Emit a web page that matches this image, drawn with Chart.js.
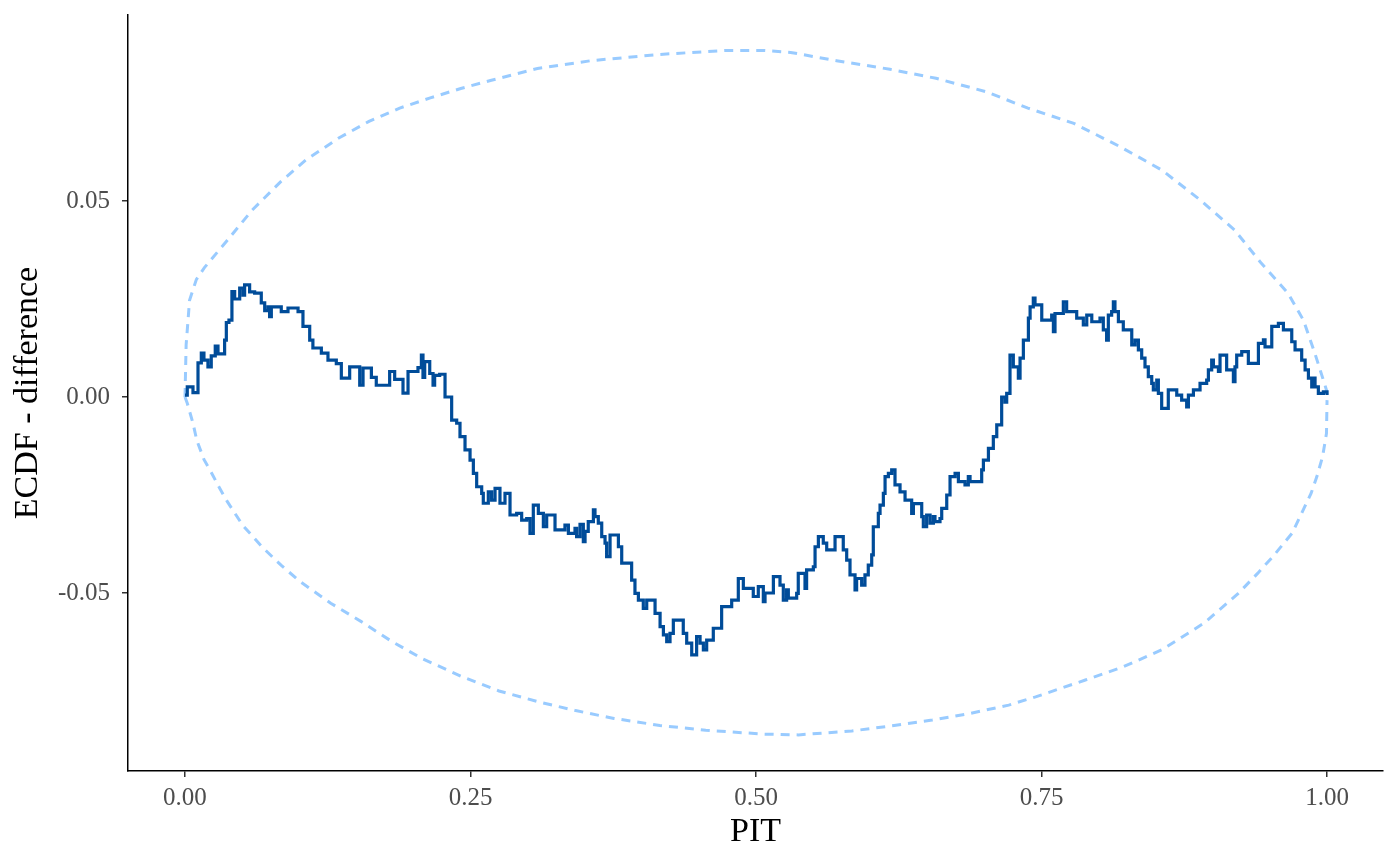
<!DOCTYPE html>
<html>
<head>
<meta charset="utf-8">
<script src="https://cdn.jsdelivr.net/npm/chart.js@4.4.1/dist/chart.umd.min.js"></script>
<style>
html,body{margin:0;padding:0;background:#fff;}
#c{display:block;}
</style>
</head>
<body>
<canvas id="c" width="1400" height="866"></canvas>
<script>
// PIT values (x) and ECDF difference (y) for the observed step curve
const ecdfX = [0.000,0.002,0.007,0.0114,0.0143,0.0166,0.0201,0.023,0.0265,0.0289,0.0347,0.0362,0.0385,0.0411,0.0435,0.0479,0.0508,0.0522,0.0566,0.061,0.0668,0.0698,0.0727,0.0741,0.0756,0.0843,0.0902,0.099,0.1033,0.1092,0.112,0.1194,0.1252,0.1325,0.1369,0.1442,0.153,0.1559,0.1632,0.1675,0.1792,0.1836,0.1909,0.1953,0.204,0.207,0.2084,0.2099,0.2143,0.2172,0.2186,0.223,0.2277,0.2335,0.2379,0.2408,0.2452,0.2496,0.2525,0.2554,0.2598,0.2612,0.2656,0.2685,0.2715,0.2758,0.2802,0.2846,0.2904,0.2948,0.2992,0.3021,0.305,0.3094,0.3138,0.3167,0.324,0.3327,0.3357,0.3415,0.3429,0.3459,0.3488,0.3503,0.3531,0.3576,0.359,0.3619,0.3649,0.3678,0.3692,0.3722,0.3795,0.3824,0.3911,0.394,0.397,0.4013,0.4043,0.4116,0.416,0.4189,0.4218,0.4247,0.4276,0.4363,0.4393,0.4437,0.448,0.451,0.4539,0.4568,0.4626,0.4699,0.4787,0.4845,0.4889,0.4976,0.502,0.5064,0.5079,0.5152,0.521,0.5239,0.5268,0.5283,0.5356,0.537,0.5429,0.5443,0.5502,0.5517,0.5546,0.5589,0.5619,0.5692,0.5764,0.5794,0.5823,0.5867,0.5881,0.5925,0.5954,0.5983,0.6013,0.6027,0.6071,0.6086,0.6115,0.613,0.6159,0.6188,0.6217,0.6261,0.6305,0.6363,0.6378,0.6451,0.6465,0.6494,0.6524,0.6553,0.6567,0.6611,0.6626,0.667,0.6699,0.6743,0.6772,0.683,0.6859,0.6874,0.6976,0.6991,0.7035,0.7078,0.7108,0.7151,0.718,0.7195,0.7224,0.7253,0.7297,0.7312,0.7341,0.7385,0.74,0.7428,0.7443,0.7502,0.7589,0.7604,0.7618,0.7691,0.772,0.7808,0.7866,0.7896,0.794,0.8012,0.8041,0.807,0.8085,0.8114,0.8129,0.8143,0.8173,0.8216,0.829,0.8319,0.8348,0.8377,0.8406,0.8435,0.8465,0.8479,0.8509,0.8523,0.8552,0.861,0.8684,0.8727,0.8771,0.8786,0.883,0.8888,0.8946,0.8961,0.899,0.9005,0.9049,0.9063,0.9121,0.918,0.9194,0.9209,0.9253,0.9311,0.9399,0.9443,0.9457,0.9516,0.9574,0.9618,0.9691,0.972,0.9778,0.9808,0.9837,0.9866,0.988,0.9895,0.9924,0.9968,1.000];
const ecdfY = [0.0005,0.0026,0.0011,0.0087,0.0112,0.0094,0.0077,0.0105,0.013,0.011,0.0145,0.019,0.0196,0.0269,0.025,0.0278,0.026,0.0286,0.0268,0.0265,0.024,0.022,0.023,0.0205,0.023,0.0218,0.0227,0.0218,0.018,0.0145,0.0125,0.0112,0.0094,0.0085,0.0048,0.0077,0.003,0.0074,0.005,0.003,0.0065,0.0045,0.001,0.0065,0.0075,0.0107,0.005,0.009,0.006,0.003,0.0055,0.0058,0.0,-0.0059,-0.0067,-0.0101,-0.0135,-0.0161,-0.0195,-0.0229,-0.0246,-0.0271,-0.0242,-0.0263,-0.0233,-0.0271,-0.0246,-0.0301,-0.0297,-0.0314,-0.031,-0.0348,-0.0276,-0.0297,-0.0331,-0.0301,-0.0339,-0.0327,-0.0348,-0.0335,-0.0356,-0.0325,-0.0369,-0.0343,-0.0318,-0.0288,-0.0305,-0.0322,-0.0356,-0.0373,-0.0407,-0.0352,-0.0382,-0.0424,-0.0467,-0.0501,-0.0518,-0.0539,-0.0518,-0.0552,-0.0586,-0.0607,-0.0624,-0.0603,-0.0569,-0.0603,-0.0628,-0.0658,-0.0611,-0.0628,-0.0645,-0.062,-0.059,-0.0535,-0.0518,-0.0463,-0.0488,-0.0509,-0.0484,-0.0522,-0.05,-0.0458,-0.048,-0.0518,-0.0492,-0.0513,-0.0501,-0.045,-0.0488,-0.0441,-0.0433,-0.0382,-0.0356,-0.0373,-0.039,-0.0356,-0.039,-0.0416,-0.0454,-0.0492,-0.0463,-0.048,-0.0454,-0.0429,-0.0403,-0.0331,-0.0297,-0.0276,-0.0246,-0.0203,-0.0195,-0.0186,-0.0224,-0.0242,-0.0263,-0.0297,-0.0272,-0.0305,-0.0331,-0.0301,-0.0322,-0.0305,-0.0318,-0.031,-0.0284,-0.025,-0.0203,-0.0195,-0.0216,-0.0224,-0.0203,-0.0216,-0.0186,-0.0161,-0.0131,-0.0101,-0.0071,0.0,-0.0013,0.0009,0.0107,0.0077,0.0048,0.0099,0.0145,0.0201,0.023,0.0252,0.0235,0.0196,0.0209,0.0167,0.0213,0.0243,0.0218,0.0201,0.0184,0.0209,0.0192,0.0201,0.0171,0.0145,0.0209,0.0218,0.0243,0.0218,0.0192,0.0171,0.0133,0.0145,0.012,0.0099,0.0077,0.0052,0.0035,0.0018,0.0043,0.0009,-0.0029,0.0018,0.0005,-0.0008,-0.0025,0.0005,0.0018,0.0035,0.0043,0.0069,0.0094,0.0077,0.0065,0.0107,0.0069,0.0039,0.0077,0.0107,0.0116,0.0086,0.0137,0.0146,0.0128,0.018,0.0188,0.0171,0.0141,0.012,0.0094,0.0069,0.0048,0.0026,0.0048,0.0026,0.0009,0.0013,0.0005];

// Simultaneous confidence band (upper)
const upperX = [0.0,0.001,0.004,0.010,0.017,0.0371,0.0589,0.0841,0.106,0.1343,0.1611,0.188,0.2148,0.2415,0.2683,0.3086,0.3555,0.416,0.4729,0.5068,0.5303,0.5705,0.6173,0.6576,0.7012,0.7381,0.7783,0.8185,0.8553,0.8888,0.919,0.9425,0.9658,0.9793,0.9894,0.9995,1.0];
const upperY = [0.0,0.0133,0.0247,0.0300,0.0330,0.0400,0.0477,0.0550,0.0605,0.0660,0.0703,0.0737,0.0763,0.0787,0.0808,0.0838,0.0858,0.0874,0.0884,0.0884,0.0879,0.0858,0.0836,0.0813,0.0779,0.0737,0.0698,0.0639,0.0579,0.0503,0.0426,0.0341,0.0265,0.0196,0.0111,0.0018,0.0];

// Simultaneous confidence band (lower)
const lowerX = [0.0,0.002,0.007,0.0103,0.0167,0.0235,0.0304,0.0371,0.0505,0.0673,0.0841,0.1008,0.1276,0.1544,0.1813,0.2081,0.2415,0.275,0.3086,0.342,0.3756,0.4158,0.456,0.5063,0.5371,0.5839,0.6209,0.6543,0.6878,0.7213,0.7448,0.7884,0.8218,0.8553,0.8922,0.9223,0.9392,0.9526,0.9693,0.9777,0.986,0.9911,0.9961,0.9995,1.0];
const lowerY = [0.0,-0.0016,-0.0067,-0.011,-0.016,-0.0195,-0.0233,-0.0267,-0.0327,-0.0382,-0.0429,-0.0471,-0.0526,-0.0573,-0.0624,-0.0668,-0.0712,-0.0750,-0.0777,-0.0800,-0.0820,-0.0838,-0.0850,-0.0860,-0.0862,-0.0852,-0.0838,-0.0824,-0.0807,-0.0786,-0.0765,-0.0722,-0.0688,-0.0645,-0.0577,-0.0501,-0.045,-0.0407,-0.0348,-0.0297,-0.0246,-0.0203,-0.0152,-0.0093,-0.0008];

const xTicks = [0, 0.25, 0.5, 0.75, 1.0];
const yTicks = [-0.05, 0.0, 0.05];

const pts = (xs, ys) => xs.map((x, i) => ({x: x, y: ys[i]}));

const FONT = "'Liberation Serif', 'DejaVu Serif', serif";

new Chart(document.getElementById('c'), {
  type: 'line',
  data: {
    datasets: [
      {
        data: pts(ecdfX, ecdfY),
        borderColor: '#004c99',
        borderWidth: 3.2,
        stepped: true,
        pointRadius: 0,
        fill: false
      },
      {
        data: pts(upperX, upperY),
        borderColor: '#99cbff',
        borderWidth: 3,
        borderDash: [9, 7],
        pointRadius: 0,
        tension: 0,
        fill: false
      },
      {
        data: pts(lowerX, lowerY),
        borderColor: '#99cbff',
        borderWidth: 3,
        borderDash: [9, 7],
        pointRadius: 0,
        tension: 0,
        fill: false
      }
    ]
  },
  options: {
    responsive: false,
    animation: false,
    devicePixelRatio: 1,
    layout: {padding: {top: 15, right: 17, left: 0, bottom: 0}},
    plugins: {legend: {display: false}, tooltip: {enabled: false}},
    scales: {
      x: {
        type: 'linear',
        min: -0.0499,
        max: 1.049,
        afterBuildTicks: (s) => { s.ticks = xTicks.map(v => ({value: v})); },
        afterFit: (s) => { s.height = 95; s.paddingLeft = 0; s.paddingRight = 0; },
        ticks: {
          callback: (v) => Number(v).toFixed(2),
          color: '#4d4d4d',
          font: {family: FONT, size: 25},
          padding: 6,
          maxRotation: 0,
          autoSkip: false
        },
        grid: {display: true, drawOnChartArea: false, drawTicks: true, tickLength: 6, color: '#333333', lineWidth: 1.5},
        border: {display: true, color: '#000000', width: 1.5},
        title: {display: true, text: 'PIT', color: '#000000', font: {family: FONT, size: 34}, padding: {top: 0, bottom: 14}}
      },
      y: {
        type: 'linear',
        min: -0.09541,
        max: 0.09745,
        afterBuildTicks: (s) => { s.ticks = yTicks.map(v => ({value: v})); },
        afterFit: (s) => { s.width = 128; s.paddingTop = 0; s.paddingBottom = 0; },
        ticks: {
          callback: (v) => Number(v).toFixed(2),
          color: '#4d4d4d',
          font: {family: FONT, size: 25},
          padding: 12,
          autoSkip: false
        },
        grid: {display: true, drawOnChartArea: false, drawTicks: true, tickLength: 6, color: '#333333', lineWidth: 1.5},
        border: {display: true, color: '#000000', width: 1.5},
        title: {display: true, text: 'ECDF - difference', color: '#000000', font: {family: FONT, size: 34}, padding: {top: 8, bottom: 0}}
      }
    }
  }
});
</script>
</body>
</html>
